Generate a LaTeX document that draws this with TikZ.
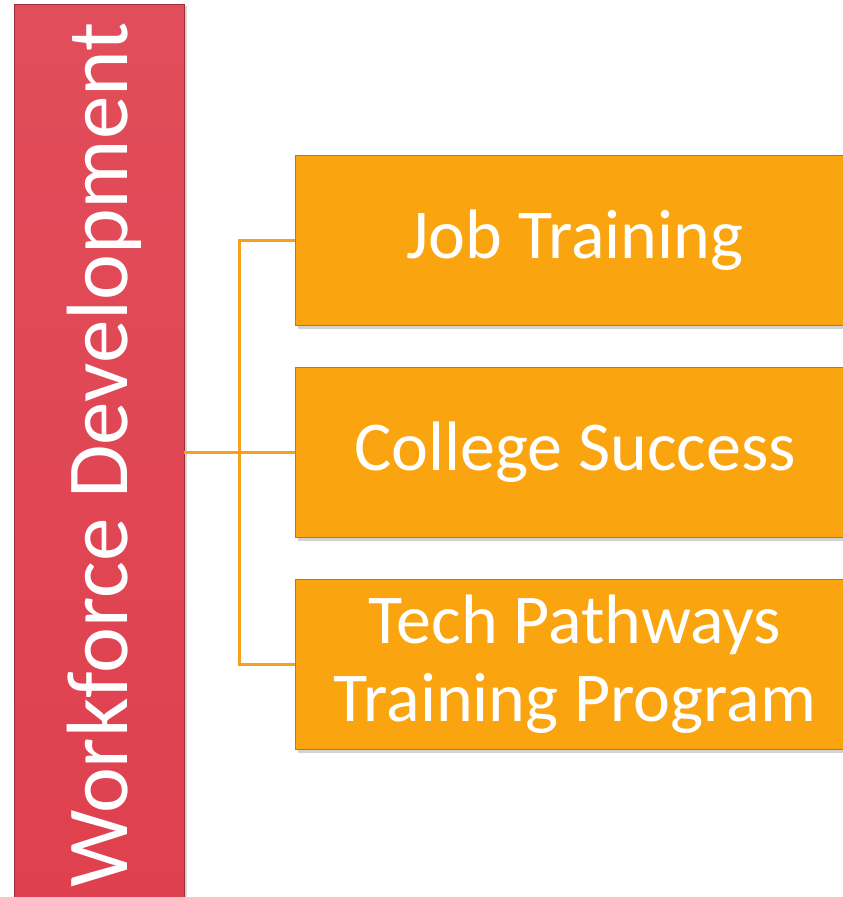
\documentclass[tikz,border=0pt]{standalone}
\usepackage{fontspec}
\setmainfont{Carlito}
\usepackage{tikz}
\usetikzlibrary{shadows}

\definecolor{barred}{HTML}{DF404E}
\definecolor{boxorange}{HTML}{FAA40F}
\definecolor{linkorange}{HTML}{F4A21E}

\tikzset{
  pillar/.style={rectangle, minimum width=170pt, minimum height=902pt, inner sep=0pt,
    top color=barred!93!white, bottom color=barred, draw=barred!70!black, line width=.4pt,
    drop shadow={shadow xshift=3pt, shadow yshift=-2pt, opacity=.35}},
  branch/.style={rectangle, minimum width=560pt, minimum height=170pt, inner sep=0pt,
    fill=boxorange, draw=boxorange!75!black, line width=.6pt, text=white, align=center,
    font=\fontsize{70}{78}\selectfont,
    drop shadow={shadow xshift=3pt, shadow yshift=-4pt, opacity=.35}},
  link/.style={linkorange, line width=3pt}
}

\begin{document}
\begin{tikzpicture}[x=1pt, y=-1pt]
  \useasboundingbox (0,0) rectangle (843,897);
  \clip (0,0) rectangle (843,897);

  % the red pillar with its rotated title
  \node[pillar] (wd) at (99,455) {};
  \node[rotate=90, anchor=base, inner sep=0pt, text=white,
    font=\fontsize{87}{90}\selectfont] (wdlabel) at (127,455) {Workforce Development};

  % the three orange boxes
  \foreach \name/\ypos/\caption in {jt/240/Job Training, cs/452/College Success,
      tp/664/{Tech Pathways\\Training Program}} {
    \node[branch] (\name) at (575,\ypos) {\caption};
  }

  % connectors
  \coordinate (trunk) at (239,452);
  \draw[link] (wd.east |- cs.west) -- (cs.west);
  \draw[link] (jt.west) -| (trunk) |- (tp.west);
\end{tikzpicture}
\end{document}
